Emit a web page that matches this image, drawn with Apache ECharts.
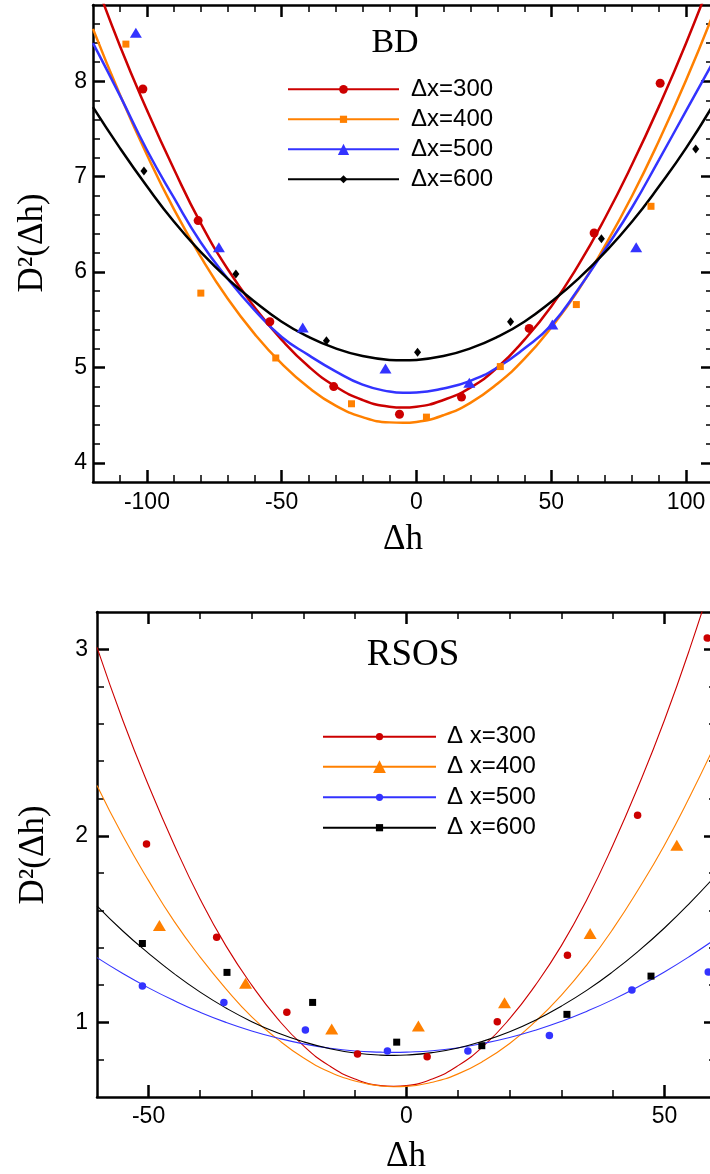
<!DOCTYPE html>
<html><head><meta charset="utf-8">
<script src="https://cdn.jsdelivr.net/npm/echarts@6/dist/echarts.min.js"></script>
<style>html,body{margin:0;padding:0;background:#fff}#c{width:710px;height:1174px}</style>
</head><body><div id="c"></div>
<script>
// ===================== BD panel (top) =====================
const bdNames = ['Δx=300', 'Δx=400', 'Δx=500', 'Δx=600'];
// fitted curves
const bdCurveX   = [-120, -110, -100, -90, -80, -70, -60, -50, -40, -30, -20, -10, -5, 0, 10, 20, 30, 40, 50, 60, 70, 80, 90, 100, 110];
const bdCurve300 = [9.12, 8.37, 7.70, 7.08, 6.51, 6.03, 5.63, 5.29, 5.01, 4.80, 4.66, 4.589, 4.58, 4.589, 4.66, 4.79, 5.00, 5.29, 5.64, 6.07, 6.57, 7.13, 7.74, 8.40, 9.12];
const bdCurve400 = [8.55, 7.86, 7.23, 6.66, 6.16, 5.72, 5.35, 5.04, 4.79, 4.60, 4.48, 4.425, 4.421, 4.43, 4.50, 4.63, 4.83, 5.09, 5.42, 5.81, 6.28, 6.80, 7.38, 8.01, 8.70];
const bdCurve500 = [8.40, 7.85, 7.28, 6.78, 6.31, 5.93, 5.60, 5.32, 5.13, 4.96, 4.82, 4.748, 4.735, 4.738, 4.78, 4.86, 5.00, 5.20, 5.445, 5.82, 6.24, 6.68, 7.18, 7.69, 8.20];
const bdCurve600 = [7.73, 7.30, 6.90, 6.53, 6.21, 5.93, 5.69, 5.48, 5.32, 5.20, 5.12, 5.080, 5.075, 5.080, 5.12, 5.20, 5.32, 5.48, 5.69, 5.93, 6.21, 6.53, 6.90, 7.30, 7.75];
// measured points
const bdX300 = [-101.5, -81, -54.4, -30.7, -6.3, 16.7, 41.8, 65.9, 90.4];
const bdY300 = [7.92, 6.54, 5.48, 4.80, 4.51, 4.69, 5.41, 6.41, 7.98];
const bdX400 = [-107.8, -80, -52.2, -24.1, 3.7, 31.1, 59.3, 87.0];
const bdY400 = [8.39, 5.78, 5.10, 4.62, 4.48, 5.01, 5.66, 6.69];
const bdX500 = [-104.1, -73.3, -42.2, -11.5, 19.6, 50.4, 81.5];
const bdY500 = [8.51, 6.26, 5.42, 4.99, 4.84, 5.45, 6.26];
const bdX600 = [-101.1, -67, -33.4, 0.4, 34.9, 68.6, 103.6];
const bdY600 = [7.06, 5.98, 5.28, 5.16, 5.48, 6.35, 7.29];
// ticks
const bdXMajor = [-100, -50, 0, 50, 100];
const bdXMinor = [-110, -90, -80, -70, -60, -40, -30, -20, -10, 10, 20, 30, 40, 60, 70, 80, 90];
const bdYMajor = [4, 5, 6, 7, 8];
const bdYMinor = [4.2, 4.4, 4.6, 4.8, 5.2, 5.4, 5.6, 5.8, 6.2, 6.4, 6.6, 6.8, 7.2, 7.4, 7.6, 7.8, 8.2, 8.4, 8.6];

// ===================== RSOS panel (bottom) =====================
const rsNames = ['Δ x=300', 'Δ x=400', 'Δ x=500', 'Δ x=600'];
const rsCurveX   = [-60, -55, -50, -45, -40, -35, -30, -25, -20, -15, -10, -5, -2.5, 0, 5, 10, 15, 20, 25, 30, 35, 40, 45, 50, 55, 60];
const rsCurve300 = [3.01, 2.62, 2.27, 1.95, 1.66, 1.41, 1.20, 1.02, 0.875, 0.768, 0.697, 0.661, 0.657, 0.661, 0.697, 0.768, 0.875, 1.02, 1.20, 1.41, 1.66, 1.95, 2.27, 2.62, 3.01, 3.44];
const rsCurve400 = [2.27, 2.00, 1.76, 1.54, 1.35, 1.18, 1.03, 0.91, 0.81, 0.736, 0.686, 0.659, 0.655, 0.657, 0.679, 0.724, 0.794, 0.887, 1.005, 1.145, 1.31, 1.50, 1.715, 1.95, 2.215, 2.50];
const rsCurve500 = [1.347, 1.262, 1.185, 1.116, 1.054, 1.00, 0.954, 0.916, 0.885, 0.862, 0.847, 0.8405, 0.839, 0.8405, 0.848, 0.864, 0.888, 0.919, 0.958, 1.005, 1.06, 1.122, 1.192, 1.27, 1.356, 1.449];
const rsCurve600 = [1.625, 1.49, 1.37, 1.26, 1.162, 1.077, 1.004, 0.944, 0.896, 0.86, 0.836, 0.8245, 0.823, 0.825, 0.838, 0.863, 0.901, 0.95, 1.012, 1.087, 1.173, 1.272, 1.383, 1.506, 1.642, 1.789];
const rsX300 = [-50.4, -36.8, -23.2, -9.5, 4.0, 17.6, 31.2, 44.8, 58.3];
const rsY300 = [1.956, 1.457, 1.055, 0.83, 0.816, 1.003, 1.36, 2.11, 3.06];
const rsX400 = [-47.9, -31.2, -14.5, 2.3, 19.0, 35.6, 52.4];
const rsY400 = [1.52, 1.21, 0.964, 0.98, 1.105, 1.477, 1.95];
const rsX500 = [-51.2, -35.4, -19.6, -3.7, 11.9, 27.7, 43.7, 58.5];
const rsY500 = [1.195, 1.107, 0.959, 0.846, 0.846, 0.93, 1.173, 1.27];
const rsX600 = [-51.2, -34.8, -18.2, -1.9, 14.6, 31.1, 47.4];
const rsY600 = [1.423, 1.268, 1.107, 0.894, 0.875, 1.043, 1.248];
const rsXMajor = [-50, 0, 50];
const rsXMinor = [-40, -30, -20, -10, 10, 20, 30, 40];
const rsYMajor = [1, 2, 3];
const rsYMinor = [0.8, 1.2, 1.4, 1.6, 1.8, 2.2, 2.4, 2.6, 2.8];

const colors = ['#cc0000', '#ff8000', '#3333ff', '#000000'];

const pairs = (xs, ys) => xs.map((x, i) => [x, ys[i]]);

function axisBase(gridIndex, position, min, max) {
  return { gridIndex, position, type: 'value', min, max,
    splitLine: { show: false },
    axisLine: { show: false, onZero: false },
    axisTick: { show: false },
    axisLabel: { show: false } };
}
function majorAxis(gridIndex, position, min, max, ticks, showLabels, margin) {
  const a = axisBase(gridIndex, position, min, max);
  a.axisLine = { show: true, onZero: false, lineStyle: { color: '#000', width: 2.5 } };
  a.axisTick = { show: true, inside: true, length: 12, customValues: ticks, lineStyle: { color: '#000', width: 2.5 } };
  a.axisLabel = { show: showLabels, customValues: ticks, margin: margin,
    fontFamily: 'Liberation Sans', fontSize: 23, color: '#000' };
  return a;
}
function minorAxis(gridIndex, position, min, max, ticks) {
  const a = axisBase(gridIndex, position, min, max);
  a.axisTick = { show: true, inside: true, length: 7, customValues: ticks, lineStyle: { color: '#000', width: 1.5 } };
  return a;
}

const bdX = [-120, 110], bdYr = [3.8, 8.8];
const rsX = [-60, 60], rsYr = [0.6, 3.2];

const xAxes = [
  majorAxis(0, 'bottom', bdX[0], bdX[1], bdXMajor, true, 9),
  minorAxis(0, 'bottom', bdX[0], bdX[1], bdXMinor),
  majorAxis(0, 'top', bdX[0], bdX[1], bdXMajor, false, 0),
  minorAxis(0, 'top', bdX[0], bdX[1], bdXMinor),
  majorAxis(1, 'bottom', rsX[0], rsX[1], rsXMajor, true, 8),
  minorAxis(1, 'bottom', rsX[0], rsX[1], rsXMinor),
  majorAxis(1, 'top', rsX[0], rsX[1], rsXMajor, false, 0),
  minorAxis(1, 'top', rsX[0], rsX[1], rsXMinor)
];
const yAxes = [
  majorAxis(0, 'left', bdYr[0], bdYr[1], bdYMajor, true, 6),
  minorAxis(0, 'left', bdYr[0], bdYr[1], bdYMinor),
  majorAxis(0, 'right', bdYr[0], bdYr[1], bdYMajor, false, 0),
  minorAxis(0, 'right', bdYr[0], bdYr[1], bdYMinor),
  majorAxis(1, 'left', rsYr[0], rsYr[1], rsYMajor, true, 9),
  minorAxis(1, 'left', rsYr[0], rsYr[1], rsYMinor),
  majorAxis(1, 'right', rsYr[0], rsYr[1], rsYMajor, false, 0),
  minorAxis(1, 'right', rsYr[0], rsYr[1], rsYMinor)
];

const bdCurves = [bdCurve300, bdCurve400, bdCurve500, bdCurve600];
const bdPtsX = [bdX300, bdX400, bdX500, bdX600];
const bdPtsY = [bdY300, bdY400, bdY500, bdY600];
const bdSym = ['circle', 'rect', 'triangle', 'diamond'];
const bdSymSize = [9, 7, [12, 10], [7, 9]];
const bdLegH = [11, 9, 14, 10];
const bdLegRow = [89.3, 119.3, 149.3, 179.3];

const rsCurves = [rsCurve300, rsCurve400, rsCurve500, rsCurve600];
const rsPtsX = [rsX300, rsX400, rsX500, rsX600];
const rsPtsY = [rsY300, rsY400, rsY500, rsY600];
const rsSym = ['circle', 'triangle', 'circle', 'rect'];
const rsSymSize = [7.5, [13, 11], 7.5, 7];
const rsLegH = [9, 16, 9, 9];
const rsLegRow = [736.7, 766.7, 797.3, 827.7];

const legendText = { fontFamily: 'Liberation Sans', fontSize: 24, color: '#000', lineHeight: 30 };
const series = [];
const legends = [];
for (let i = 0; i < 4; i++) {
  series.push({ name: bdNames[i], type: 'line', xAxisIndex: 0, yAxisIndex: 0,
    data: pairs(bdCurveX, bdCurves[i]), smooth: true, showSymbol: false,
    symbol: bdSym[i], clip: true, z: 2,
    lineStyle: { color: colors[i], width: 2.5 }, itemStyle: { color: colors[i] } });
  series.push({ name: bdNames[i], type: 'scatter', xAxisIndex: 0, yAxisIndex: 0,
    data: pairs(bdPtsX[i], bdPtsY[i]), symbol: bdSym[i], symbolSize: bdSymSize[i],
    z: 3, itemStyle: { color: colors[i], opacity: 1 } });
  legends.push({ data: [bdNames[i]], left: 287, top: bdLegRow[i] - 15, orient: 'vertical',
    padding: 0, itemWidth: 111, itemHeight: bdLegH[i], selectedMode: false,
    textStyle: Object.assign({ padding: [0, 0, 0, 7] }, legendText) });
}
for (let i = 0; i < 4; i++) {
  series.push({ name: rsNames[i], type: 'line', xAxisIndex: 4, yAxisIndex: 4,
    data: pairs(rsCurveX, rsCurves[i]), smooth: true, showSymbol: false,
    symbol: rsSym[i], clip: true, z: 2,
    lineStyle: { color: colors[i], width: 1.1 }, itemStyle: { color: colors[i] } });
  series.push({ name: rsNames[i], type: 'scatter', xAxisIndex: 4, yAxisIndex: 4,
    data: pairs(rsPtsX[i], rsPtsY[i]), symbol: rsSym[i], symbolSize: rsSymSize[i],
    z: 3, itemStyle: { color: colors[i], opacity: 1 } });
  legends.push({ data: [rsNames[i]], left: 322, top: rsLegRow[i] - 15, orient: 'vertical',
    padding: 0, itemWidth: 113, itemHeight: rsLegH[i], selectedMode: false,
    textStyle: Object.assign({ padding: [0, 0, 0, 6] }, legendText) });
}

const serif = '"Liberation Serif", "DejaVu Serif", serif';
const option = {
  animation: false,
  backgroundColor: '#ffffff',
  grid: [
    { left: 93, top: 5, width: 620, height: 477, outerBoundsMode: 'none', containLabel: false },
    { left: 97, top: 612, width: 619, height: 485, outerBoundsMode: 'none', containLabel: false }
  ],
  xAxis: xAxes,
  yAxis: yAxes,
  legend: legends,
  series: series,
  graphic: [
    { type: 'text', x: 395, y: 43, style: { text: 'BD', fontFamily: serif, fontSize: 34, fill: '#000', textAlign: 'center', textVerticalAlign: 'middle' } },
    { type: 'text', x: 413, y: 655, style: { text: 'RSOS', fontFamily: serif, fontSize: 37, fill: '#000', textAlign: 'center', textVerticalAlign: 'middle' } },
    { type: 'text', x: 403, y: 540, style: { text: 'Δh', fontFamily: serif, fontSize: 35, fill: '#000', textAlign: 'center', textVerticalAlign: 'middle' } },
    { type: 'text', x: 406, y: 1157, style: { text: 'Δh', fontFamily: serif, fontSize: 35, fill: '#000', textAlign: 'center', textVerticalAlign: 'middle' } },
    { type: 'text', x: 33, y: 243, rotation: Math.PI / 2, style: { text: 'D²(Δh)', fontFamily: serif, fontSize: 35, fill: '#000', textAlign: 'center', textVerticalAlign: 'middle' } },
    { type: 'text', x: 34, y: 855, rotation: Math.PI / 2, style: { text: 'D²(Δh)', fontFamily: serif, fontSize: 35, fill: '#000', textAlign: 'center', textVerticalAlign: 'middle' } }
  ]
};
const chart = echarts.init(document.getElementById('c'), null, { renderer: 'canvas' });
chart.setOption(option);
</script>
</body></html>
